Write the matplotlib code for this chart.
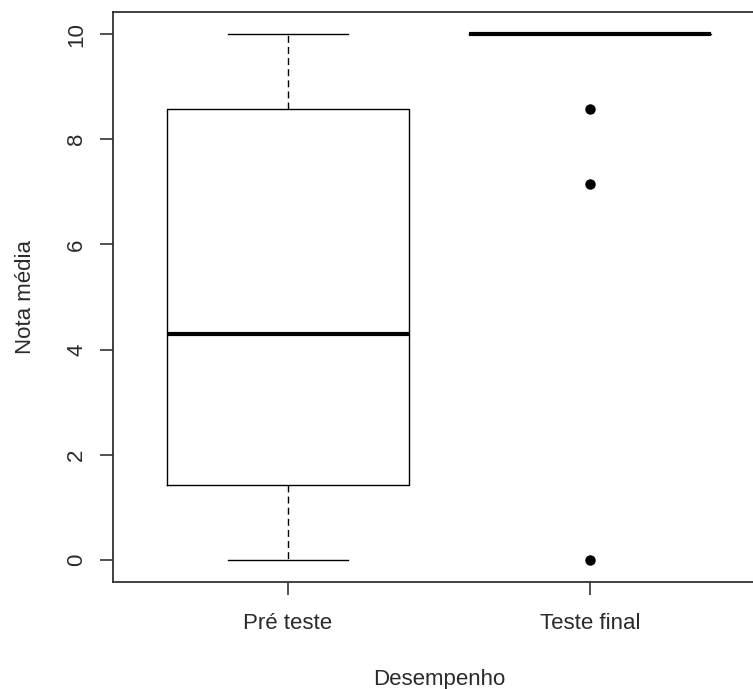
import matplotlib.pyplot as plt

plt.rcParams['font.family'] = ['Liberation Sans', 'DejaVu Sans']

# dados
grupos = ["Pré teste", "Teste final"]
minimo = [0.0, 10.0]
q1 = [1.43, 10.0]
mediana = [4.29, 10.0]
q3 = [8.57, 10.0]
maximo = [10.0, 10.0]
outliers = [[], [8.57, 7.14, 0.0]]

stats = []
for i in range(len(grupos)):
    stats.append(dict(label=grupos[i], whislo=minimo[i], q1=q1[i], med=mediana[i],
                      q3=q3[i], whishi=maximo[i], fliers=outliers[i]))

fig = plt.figure(figsize=(7.53, 6.89), dpi=100)
ax = fig.add_axes([0.150, 0.1553, 0.866, 0.8273])

cor = "#333333"
ax.bxp(stats, positions=[1, 2], widths=0.8, capwidths=0.4,
       boxprops=dict(color="black", linewidth=1.0),
       whiskerprops=dict(color="black", linewidth=1.0, linestyle=(0, (5, 3))),
       capprops=dict(color="black", linewidth=1.0),
       medianprops=dict(color="black", linewidth=3),
       flierprops=dict(marker="o", markerfacecolor="black", markeredgecolor="black", markersize=6.5))

ax.set_xlim(0.42, 2.58)
ax.set_ylim(-0.42, 10.42)
ax.set_yticks([0, 2, 4, 6, 8, 10])
for lab in ax.get_yticklabels():
    lab.set_rotation(90)
    lab.set_va("center")

for s in ax.spines.values():
    s.set_color(cor)
    s.set_linewidth(1.3)
ax.tick_params(colors=cor, labelcolor="#2a2a2a", length=9.5, width=1.2, labelsize=16, pad=9)
ax.tick_params(axis="x", pad=13)

ax.set_xlabel("Desempenho", fontsize=16, color="#2a2a2a", labelpad=25)
ax.set_ylabel("Nota média", fontsize=16, color="#2a2a2a", labelpad=22)

fig.savefig("out.png", dpi=100)
